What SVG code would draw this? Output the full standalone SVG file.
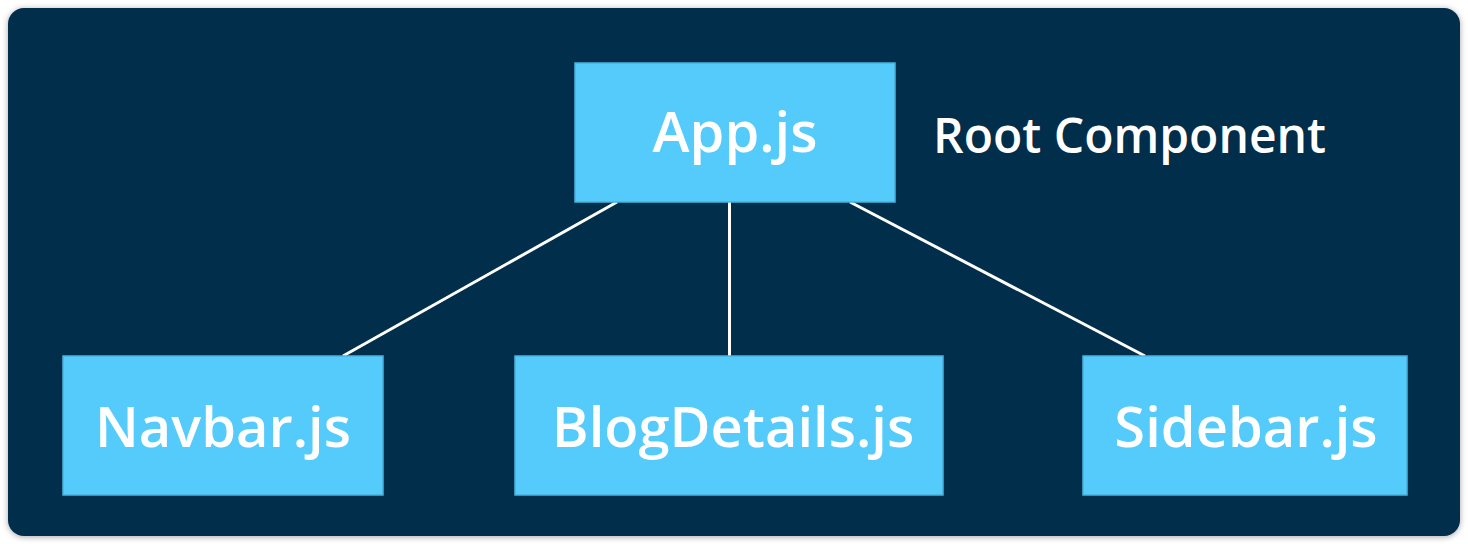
<svg xmlns="http://www.w3.org/2000/svg" width="1468" height="544" viewBox="0 0 1468 544">
  <defs>
    <filter id="shadow" x="-5%" y="-5%" width="110%" height="110%">
      <feGaussianBlur in="SourceAlpha" stdDeviation="3"/>
      <feOffset dx="0" dy="1"/>
      <feComponentTransfer><feFuncA type="linear" slope="0.35"/></feComponentTransfer>
      <feMerge><feMergeNode/><feMergeNode in="SourceGraphic"/></feMerge>
    </filter>
  </defs>
  <style>
    .box { fill: #54cbfa; stroke: #4ab2de; stroke-width: 1.5; }
    .label { font-family: "Open Sans", "Liberation Sans", sans-serif; font-weight: 600; font-size: 56px; fill: #ffffff; text-anchor: middle; }
    .conn { stroke: #ffffff; stroke-width: 3; fill: none; }
  </style>
  <rect x="0" y="0" width="1468" height="544" fill="#ffffff"/>
  <rect x="8" y="8" width="1452" height="528" rx="16" ry="16" fill="#062d4c" filter="url(#shadow)"/>

  <g id="connectors">
    <line class="conn" x1="617" y1="202" x2="343" y2="356"/>
    <line class="conn" x1="729.5" y1="202" x2="729.5" y2="356"/>
    <line class="conn" x1="850" y1="202" x2="1145" y2="356"/>
  </g>

  <g id="app">
    <rect class="box" x="575" y="63" width="320" height="139"/>
    <text class="label" x="735" y="152">App.js</text>
  </g>
  <g id="root-label">
    <text x="933" y="153" font-family="'Open Sans', 'Liberation Sans', sans-serif" font-weight="600" font-size="48" fill="#ffffff">Root Component</text>
  </g>
  <g id="navbar">
    <rect class="box" x="63" y="356" width="320" height="139"/>
    <text class="label" x="223" y="447">Navbar.js</text>
  </g>
  <g id="blogdetails">
    <rect class="box" x="515" y="356" width="428" height="139"/>
    <text class="label" x="733" y="447">BlogDetails.js</text>
  </g>
  <g id="sidebar">
    <rect class="box" x="1083" y="356" width="324" height="139"/>
    <text class="label" x="1246" y="447">Sidebar.js</text>
  </g>
</svg>
